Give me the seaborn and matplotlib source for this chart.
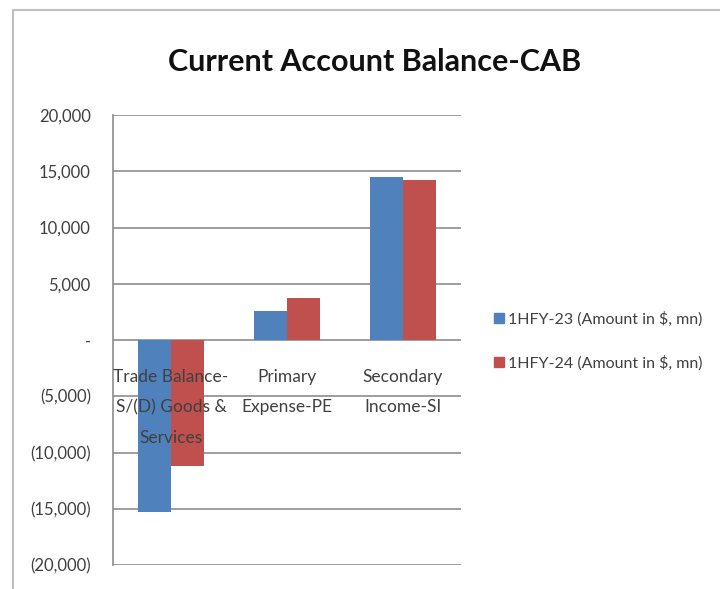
import pandas as pd
import matplotlib
matplotlib.use("Agg")
import matplotlib.pyplot as plt
import matplotlib.ticker as mticker
from matplotlib.lines import Line2D
import seaborn as sns

categories = ["Trade Balance-\nS/(D) Goods &\nServices", "Primary\nExpense-PE", "Secondary\nIncome-SI"]
series = ["1HFY-23 (Amount in $, mn)", "1HFY-24 (Amount in $, mn)"]
fy23 = [-15300, 2600, 14500]
fy24 = [-11200, 3700, 14200]
colors = ["#4F81BD", "#C0504D"]

df = pd.DataFrame({
    "Category": categories * 2,
    "Series": [series[0]] * 3 + [series[1]] * 3,
    "Amount": fy23 + fy24,
})

sns.set_style("white")
plt.rcParams["font.family"] = ["Lato", "DejaVu Sans"]

fig = plt.figure(figsize=(7.2, 5.89), dpi=100)
ax = fig.add_axes([113 / 720, 1 - 565 / 589, 348 / 720, 450 / 589])

sns.barplot(data=df, x="Category", y="Amount", hue="Series", palette=colors,
            width=0.57, saturation=1, linewidth=0, ax=ax, zorder=3)

ax.set_ylim(-20000, 20000)
ax.set_yticks(range(-20000, 20001, 5000))
ax.yaxis.grid(True, color="#8c8c8c", linewidth=1.2, zorder=0)
ax.xaxis.grid(False)
for s in ["top", "right", "bottom"]:
    ax.spines[s].set_visible(False)
ax.spines["left"].set_color("#8c8c8c")
ax.spines["left"].set_linewidth(1.2)


def fmt(v, pos):
    if v == 0:
        return "-"
    if v < 0:
        return "({:,.0f})".format(-v)
    return "{:,.0f}".format(v)


ax.yaxis.set_major_formatter(mticker.FuncFormatter(fmt))
ax.tick_params(axis="y", length=0, pad=16, labelsize=12, labelcolor="#404040")
ax.set_xticks(range(3))
ax.set_xticklabels([])
ax.tick_params(axis="x", length=0)
ax.set_xlabel("")
ax.set_ylabel("")

for i, lab in enumerate(categories):
    ax.text(i, -2550, lab, ha="center", va="top", fontsize=12.5,
            color="#404040", linespacing=2.1, zorder=4)

ax.get_legend().remove()
handles = [Line2D([], [], marker="s", linestyle="", markersize=7, color=c) for c in colors]
fig.legend(handles, series, loc="center left", bbox_to_anchor=(478 / 720, 1 - 341 / 589),
           frameon=False, fontsize=11.5, labelspacing=1.8, handletextpad=0.2,
           handlelength=0.8, labelcolor="#404040")

fig.text(375 / 720, 1 - 62 / 589, "Current Account Balance-CAB", ha="center", va="center",
         fontsize=22, fontweight="bold", color="#111111")

# outer chart border
fig.add_artist(Line2D([13 / 720, 1], [1 - 10 / 589, 1 - 10 / 589], transform=fig.transFigure,
                      color="#bfbfbf", linewidth=1.5))
fig.add_artist(Line2D([13 / 720, 13 / 720], [0, 1 - 10 / 589], transform=fig.transFigure,
                      color="#bfbfbf", linewidth=1.5))

fig.savefig("out.png", dpi=100)
